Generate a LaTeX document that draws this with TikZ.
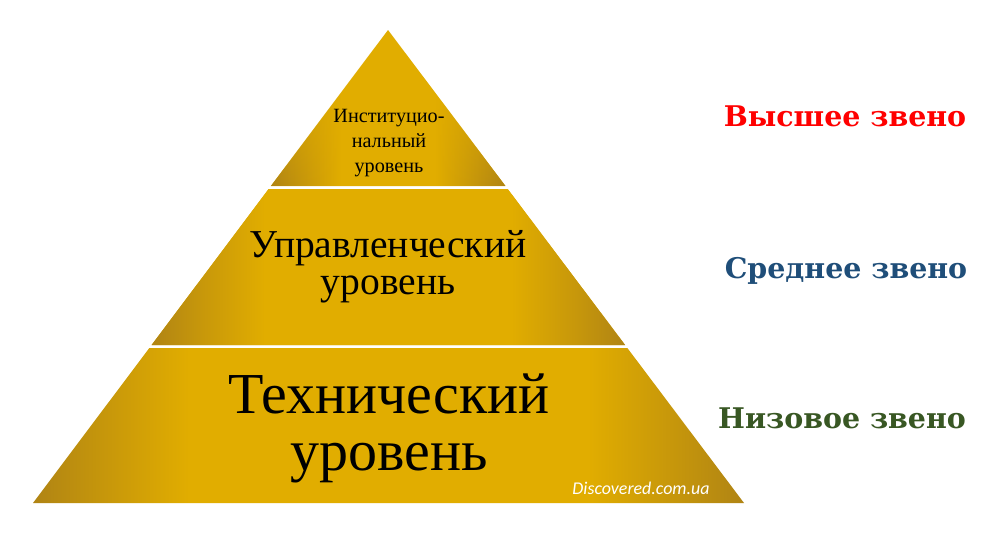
\documentclass[tikz,border=0pt]{standalone}
\usepackage{fontspec}
\setmainfont{Liberation Serif}
\newfontfamily\wmfont{Carlito}
\newfontfamily\linkfont{DejaVu Serif}
\usetikzlibrary{calc,fadings}
\definecolor{gold}{RGB}{225,173,0}
\definecolor{golddark}{RGB}{176,132,20}
\colorlet{goldmid}{golddark!55!gold}
\definecolor{topred}{RGB}{255,0,0}
\definecolor{midblue}{RGB}{31,78,121}
\definecolor{lowgreen}{RGB}{56,87,35}
\pgfdeclarehorizontalshading{bandlow}{100bp}{color(0bp)=(golddark); color(25bp)=(golddark); color(36bp)=(gold); color(64bp)=(gold); color(75bp)=(golddark); color(100bp)=(golddark)}
\pgfdeclarehorizontalshading{bandmid}{100bp}{color(0bp)=(golddark); color(25bp)=(golddark); color(30bp)=(goldmid); color(37bp)=(gold); color(63bp)=(gold); color(70bp)=(goldmid); color(75bp)=(golddark); color(100bp)=(golddark)}
\pgfdeclarehorizontalshading{bandtop}{100bp}{color(0bp)=(golddark); color(25bp)=(golddark); color(40bp)=(gold); color(60bp)=(gold); color(75bp)=(golddark); color(100bp)=(golddark)}
\tikzfading[name=upfade, top color=transparent!100, bottom color=transparent!0]
\tikzset{
  lvltext/.style={align=center, text=black, inner sep=0pt, anchor=base},
  linktext/.style={font=\linkfont\bfseries\fontsize{16.2}{20}\selectfont, inner sep=0pt, anchor=base},
}
\begin{document}
\begin{tikzpicture}[x=0.02cm,y=-0.02cm]
\useasboundingbox[fill=white] (0,0) rectangle (1000,538);
\coordinate (A) at (388,30);
\coordinate (BL) at (33,503);
\coordinate (BR) at (744,503);
% top layer
\fill[gold] (A) -- ($(A)!0.3298!(BR)$) -- ($(A)!0.3298!(BL)$) -- cycle;
\shade[shading=bandtop, path fading=upfade] (A) -- ($(A)!0.3298!(BR)$) -- ($(A)!0.3298!(BL)$) -- cycle;
% middle layer
\fill[gold] ($(A)!0.3362!(BL)$) -- ($(A)!0.3362!(BR)$) -- ($(A)!0.6660!(BR)$) -- ($(A)!0.6660!(BL)$) -- cycle;
\shade[shading=bandmid] ($(A)!0.3362!(BL)$) -- ($(A)!0.3362!(BR)$) -- ($(A)!0.6660!(BR)$) -- ($(A)!0.6660!(BL)$) -- cycle;
% bottom layer
\shade[shading=bandlow] ($(A)!0.6723!(BL)$) -- ($(A)!0.6723!(BR)$) -- (BR) -- (BL) -- cycle;
% level texts
\node[lvltext, font=\fontsize{11.5}{14.2}\selectfont] (inst) at (389,172) {Институцио-\\нальный\\уровень};
\node[lvltext, font=\fontsize{22.5}{21}\selectfont] (upr) at (388,294) {Управленческий\\уровень};
\node[lvltext, font=\fontsize{33}{32.3}\selectfont] (tech) at (389,470) {Технический\\уровень};
\node[text=white, font=\wmfont\itshape\fontsize{10.2}{12}\selectfont, anchor=base, inner sep=0pt] (wm) at (641,494) {Discovered.com.ua};
% link labels
\node[linktext, text=topred] (hi) at (845,126) {Высшее звено};
\node[linktext, text=midblue] (mid) at (846,278) {Среднее звено};
\node[linktext, text=lowgreen] (low) at (842,428) {Низовое звено};
\end{tikzpicture}
\end{document}
